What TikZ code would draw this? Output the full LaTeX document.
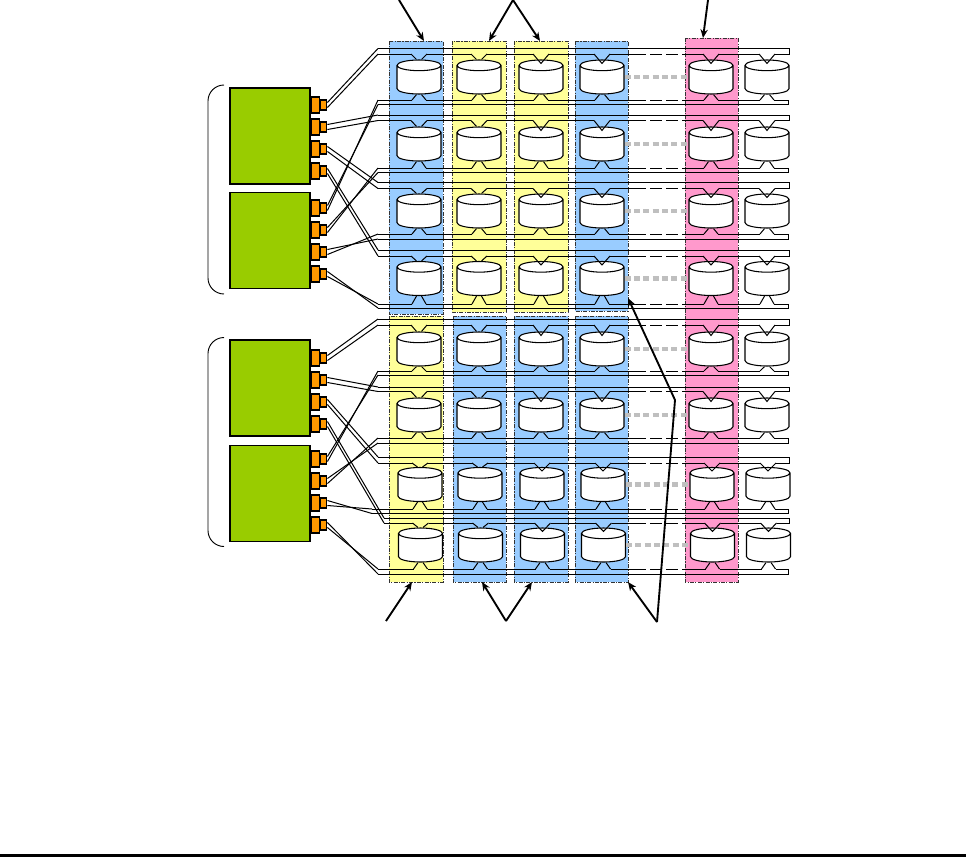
\documentclass[tikz,border=0pt]{standalone}
\usepackage{tikz}
\usetikzlibrary{arrows.meta,positioning,calc,shapes.geometric}

\definecolor{bandblue}{HTML}{99CCFF}
\definecolor{bandyellow}{HTML}{FFFF99}
\definecolor{bandpink}{HTML}{FF99CC}
\definecolor{ctrlgreen}{HTML}{99CC00}
\definecolor{portorange}{HTML}{FF9900}

\begin{document}
\begin{tikzpicture}[
    x=0.75pt, y=-0.75pt,
    band/.style={draw=black!80, line width=0.6pt, dash pattern=on 3pt off 1pt on 0.8pt off 1pt},
    ctrl/.style={draw, line width=0.8pt, fill=ctrlgreen, minimum width=60pt, minimum height=72pt, inner sep=0pt},
    portbig/.style={draw, line width=0.8pt, fill=portorange, minimum width=6.5pt, minimum height=12pt, inner sep=0pt},
    portsmall/.style={draw, line width=0.8pt, fill=portorange, minimum width=4.5pt, minimum height=7.5pt, inner sep=0pt},
    disk/.style={draw, line width=0.8pt, fill=white, cylinder, shape border rotate=90, shape aspect=0.5, anchor=shape center,
                 minimum width=33pt, minimum height=25.5pt, inner sep=0pt, inner xsep=8pt, inner ysep=8pt},
    bus/.style={line width=0.75pt},
    gapline/.style={bus, dash pattern=on 9pt off 3pt},
    gapdots/.style={draw=black!25, line width=3.6pt, dash pattern=on 4.5pt off 2.5pt},
    arrow/.style={-{Stealth[length=6.5pt,width=5.5pt]}, line width=1.4pt}
]
\useasboundingbox (0,0) rectangle (966,857);

% bands behind everything
\foreach \x/\w/\y/\h/\col in {389/54/41/273/bandblue, 452/54/41/271/bandyellow, 514/54/41/271/bandyellow,
                              575/53/41/270/bandblue, 389/54/316/266/bandyellow, 453/53/316/266/bandblue,
                              514/54/316/266/bandblue, 575/53/316/266/bandblue, 685/53/38/544/bandpink}
  \draw[band, fill=\col] (\x,\y) rectangle ++(\w,\h);

% controllers and their ports
\node[ctrl] (a) at (270,136)   {};
\node[ctrl] (b) at (270,240.5) {};
\node[ctrl] (c) at (270,388)   {};
\node[ctrl] (d) at (270,493.5) {};

\foreach \b/\i/\y in {a/1/105,a/2/127,a/3/149,a/4/171, b/1/208,b/2/230,b/3/252,b/4/274,
                      c/1/358,c/2/380,c/3/402,c/4/424, d/1/459,d/2/481,d/3/503,d/4/525} {
  \node[portbig] (\b\i big) at (315.5,\y) {};
  \node[portsmall, right=0pt of \b\i big] (\b\i) {};
}

\coordinate (gapl) at (634,0);
\coordinate (gapr) at (685,0);

% disks, one row at a time
\foreach \r/\ot/\it/\ib/\ob/\cy/\sft/\xt/\xb in {
    1/48.5/54/100/104.5/77/0/378/378,
    2/115/120.5/168/172.5/144/0/378/378,
    3/182.5/188.5/234/239/211/0/378/378,
    4/250/256/304/308/278.5/0/378/378,
    5/319/325/371/375/349/0/378/378,
    6/387/391.5/438/443/415/0/378/378,
    7/457/463/509/513.5/484.5/1/378/372,
    8/518/523/569/574/545/1.5/384/378} {
  \foreach \c/\cx in {1/419,2/479,3/541,4/602,5/711,6/767} {
    \node[disk] (d\r\c) at ({\cx+\sft},\cy) {};
    \coordinate (ta\r\c) at ({\cx+\sft-8},\it);
    \coordinate (tb\r\c) at ({\cx+\sft+8},\it);
    \coordinate (ba\r\c) at ({\cx+\sft-7},\ib);
    \coordinate (bb\r\c) at ({\cx+\sft+7},\ib);
    \draw[bus] (ba\r\c) -- ($(d\r\c.south)+(-2.5,0)$);
    \draw[bus] (bb\r\c) -- ($(d\r\c.south)+(2.5,0)$);
  }
  \foreach \c in {1,2} {
    \draw[bus] (ta\r\c) -- ($(d\r\c.north)+(-2.5,0)$);
    \draw[bus] (tb\r\c) -- ($(d\r\c.north)+(2.5,0)$);
  }
  \foreach \c in {3,4,5,6}
    \draw[bus] (ta\r\c) -- ($(d\r\c.north)+(0,4)$) -- (tb\r\c);

  % inner lines run from disk to disk
  \foreach \c/\n in {1/2,2/3,3/4,5/6} {
    \draw[bus] (tb\r\c) -- (ta\r\n);
    \draw[bus] (bb\r\c) -- (ba\r\n);
  }
  \draw[bus] (tb\r4) -- (tb\r4 -| gapl);
  \draw[bus] (bb\r4) -- (bb\r4 -| gapl);
  \draw[gapline] (tb\r4 -| gapl) -- (ta\r5 -| gapr);
  \draw[gapline] (bb\r4 -| gapl) -- (ba\r5 -| gapr);
  \draw[bus] (ta\r5 -| gapr) -- (ta\r5);
  \draw[bus] (ba\r5 -| gapr) -- (ba\r5);
  \draw[gapdots] (d\r4.shape center -| d\r4.east) -- (d\r4.shape center -| d\r5.west);

  % bus ends, closed on the right
  \coordinate (ot\r) at (\xt,\ot);
  \coordinate (it\r) at (\xt,\it);
  \coordinate (ib\r) at (\xb,\ib);
  \coordinate (ob\r) at (\xb,\ob);
  \draw[bus] (ot\r) -- (789,\ot) -- (789,\it) -- (tb\r6);
  \draw[bus] (ob\r) -- (788,\ob) -- (788,\ib) -- (bb\r6);
  \draw[bus] (it\r) -- (ta\r1);
  \draw[bus] (ib\r) -- (ba\r1);
}

% port to bus wiring
\foreach \b/\k/\s in {a/t/0,b/b/0,c/t/4,d/b/4}
  \foreach \i in {1,...,4} {
    \pgfmathtruncatemacro{\r}{\i+\s}
    \draw[bus] ($(\b\i.east)+(0,-2.5)$) -- (o\k\r);
    \draw[bus] ($(\b\i.east)+(0,2.5)$) -- (i\k\r);
  }

% braces
\draw[line width=0.7pt, rounded corners=12pt] (224,85) -- (208,85) -- (208,294) -- (224,294);
\draw[line width=0.7pt, rounded corners=12pt] (224,337.5) -- (208,337.5) -- (208,546.5) -- (224,546.5);

% callouts
\coordinate (ctop1) at (399,0);
\coordinate (ctop2) at (513,0);
\coordinate (ctop3) at (708,0);
\coordinate (cbot1) at (386,621);
\coordinate (cbot2) at (506,621);
\coordinate (cbot3) at (657,622);
\coordinate (cbend) at (675,400);
\draw[arrow] (ctop1) -- (424,41);
\draw[arrow] (ctop2) -- (489,41);
\draw[arrow] (ctop2) -- (540,41);
\draw[arrow] (ctop3) -- (703,38);
\draw[arrow] (cbot1) -- (412,582);
\draw[arrow] (cbot2) -- (482,582);
\draw[arrow] (cbot2) -- (532,582);
\draw[arrow] (cbot3) -- (628,582);
\draw[arrow] (cbot3) -- (cbend) -- (628,298);

% rule along the foot of the page
\draw[line width=2pt] (0,855.5) -- (966,855.5);
\end{tikzpicture}
\end{document}
